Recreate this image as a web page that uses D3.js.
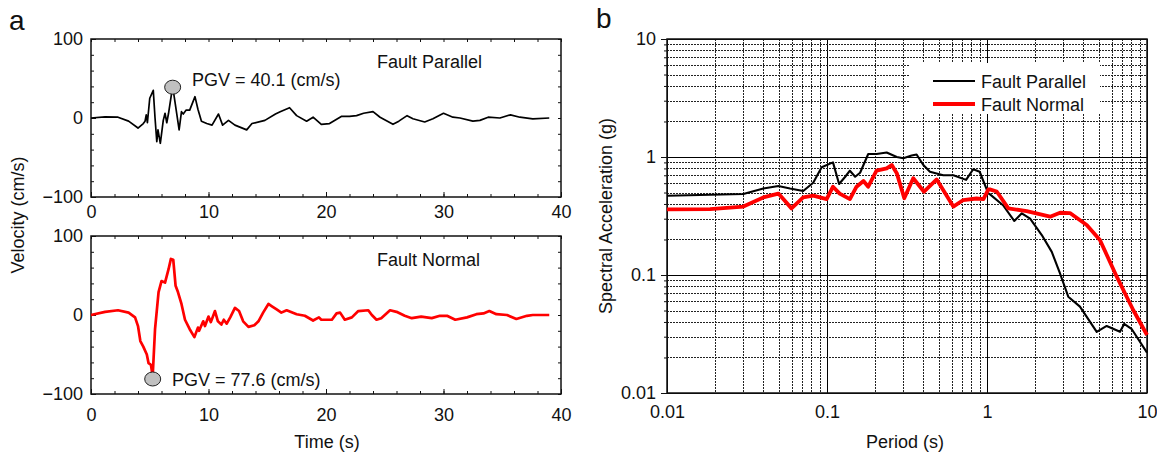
<!DOCTYPE html>
<html>
<head>
<meta charset="utf-8">
<script src="https://cdn.jsdelivr.net/npm/d3@7/dist/d3.min.js"></script>
<style>
  body { margin: 0; background: #fff; }
  svg text { font-family: "Liberation Sans", Arial, sans-serif; fill: #111; }
</style>
</head>
<body>
<svg id="chart" width="1157" height="457"></svg>
<script>
  // velocity time histories (s, cm/s)
  var fpTime = [0, 1.2, 2.3, 3.2, 4.0, 4.45, 4.6, 4.7, 4.8, 5.0, 5.3, 5.45, 5.6, 5.7, 5.9, 6.15, 6.3, 6.45, 6.6, 6.95, 7.15, 7.5, 7.7, 7.85, 8.1, 8.4, 8.85, 9.1, 9.4, 9.85, 10.3, 10.85, 11.2, 11.7, 12.25, 13.25, 13.7, 14.8, 15.7, 16.1, 16.9, 17.5, 18.35, 18.9, 19.6, 20.3, 21.3, 22.0, 22.6, 23.2, 24.0, 24.6, 25.7, 26.2, 26.9, 27.4, 28.4, 29.1, 30.0, 30.8, 31.4, 32.5, 33.1, 33.8, 34.8, 35.7, 36.5, 37.6, 39.0];
  var fpVel  = [0, 1.5, 1, -4, -12.7, -7, -4, 4, -6, 25, 35, 0, -30, -15, -32, -3, 6, -6, 6, 40.1, 20, -15, 8, 5, 10, 10, 27, 11, -4, -7, -9, 5, -9, -3, -9, -15, -7, -3, 5, 8, 13, 3, -4, 1, -8, -7, 2, 2, 3, 6, 8, 1, -8, -4, 3, -1, -5, -1, 6, 1, 0, -4, -3, 1, 0, 4, 1, -1, 0];

  var fnTime = [0, 1.2, 2.3, 3.2, 3.75, 4.0, 4.2, 4.45, 4.75, 4.9, 5.1, 5.25, 5.45, 5.75, 6.0, 6.3, 6.6, 6.8, 7.0, 7.2, 7.4, 7.7, 8.0, 8.4, 8.8, 9.1, 9.2, 9.55, 9.7, 10.0, 10.2, 10.55, 10.8, 11.1, 11.3, 11.55, 11.85, 12.25, 12.6, 12.95, 13.4, 13.9, 14.25, 14.65, 15.1, 15.4, 15.8, 16.2, 16.65, 17.5, 18.2, 18.9, 19.4, 19.6, 20.5, 20.9, 21.2, 21.6, 22.2, 22.75, 23.6, 23.9, 24.3, 24.7, 25.45, 26.0, 26.7, 27.3, 28.1, 29.0, 29.7, 30.3, 31.0, 32.0, 32.8, 33.4, 33.9, 34.5, 35.4, 36.2, 37.1, 37.6, 39.0];
  var fnVel  = [0, 4, 6, 3, -3, -14, -33, -40, -50, -61, -63, -77.6, -18, 29, 43, 41, 58, 71, 70, 37, 29, 14, -6, -18, -28, -16, -20, -8, -14, -2, -9, 5, -8, -12, -6, -11, -3, 9, 5, -8, -15, -13, -8, 3, 14, 11, 7, 3, 6, 1, -1, -7, -3, -6, -6, 2, 3, -6, -3, 5, 6, 0, -6, -4, 6, 4, -1, -4, -2, -4, -1, -1, -6, -3, 1, 2, 5, 1, 0, -5, -1, 0, 0];

  // response spectra (period s, Sa g)
  var fpPeriod = [0.01, 0.03, 0.04, 0.0497, 0.0587, 0.071, 0.082, 0.0926, 0.109, 0.119, 0.13, 0.139, 0.15, 0.161, 0.181, 0.204, 0.236, 0.273, 0.30, 0.338, 0.363, 0.40, 0.44, 0.533, 0.616, 0.74, 0.82, 0.90, 1.02, 1.04, 1.26, 1.48, 1.65, 1.86, 2.2, 2.54, 2.86, 3.22, 3.81, 4.85, 5.6, 6.78, 7.2, 8.0, 10];
  var fpSa     = [0.47, 0.486, 0.54, 0.567, 0.54, 0.515, 0.605, 0.82, 0.90, 0.59, 0.68, 0.765, 0.68, 0.735, 1.06, 1.06, 1.09, 1.0, 0.975, 1.03, 1.05, 0.855, 0.75, 0.70, 0.70, 0.64, 0.787, 0.75, 0.49, 0.485, 0.39, 0.287, 0.333, 0.30, 0.218, 0.157, 0.103, 0.0655, 0.054, 0.033, 0.037, 0.033, 0.0385, 0.035, 0.022];

  var fnPeriod = [0.01, 0.0186, 0.03, 0.04, 0.0497, 0.06, 0.071, 0.082, 0.0995, 0.109, 0.12, 0.139, 0.153, 0.169, 0.181, 0.204, 0.236, 0.254, 0.273, 0.304, 0.346, 0.404, 0.485, 0.616, 0.711, 0.86, 0.95, 1.02, 1.04, 1.15, 1.36, 1.77, 2.48, 2.86, 3.3, 4.2, 5.08, 6.47, 8.2, 10];
  var fnSa     = [0.36, 0.362, 0.38, 0.455, 0.49, 0.367, 0.455, 0.47, 0.44, 0.56, 0.49, 0.44, 0.56, 0.627, 0.56, 0.765, 0.80, 0.855, 0.73, 0.447, 0.66, 0.508, 0.645, 0.38, 0.432, 0.445, 0.44, 0.532, 0.532, 0.51, 0.367, 0.348, 0.312, 0.337, 0.335, 0.265, 0.198, 0.0968, 0.0505, 0.031];

  var velTicks = [-100, 0, 100];
  var timeTicks = [0, 10, 20, 30, 40];
  var saTicks = [0.01, 0.1, 1, 10];
  var periodTicks = [0.01, 0.1, 1, 10];

  var svg = d3.select("#chart");

  // ---------- panel a ----------
  var x = d3.scaleLinear().domain([0, 40]).range([91, 561]);
  var yTop = d3.scaleLinear().domain([-100, 100]).range([197, 39]);
  var yBot = d3.scaleLinear().domain([-100, 100]).range([394, 236]);

  function velPanel ( y, times, vels, color, width, labelDy ) {
    var g = svg.append("g");
    var top = y.range()[1], bottom = y.range()[0];

    // minor ticks inside on all sides
    var minorX = d3.range(0, 41, 2), minorY = d3.range(-100, 101, 20);
    g.append("g").attr("transform", "translate(0," + bottom + ")")
      .call(d3.axisBottom(x).tickValues(minorX).tickSize(-3).tickFormat(""));
    g.append("g").attr("transform", "translate(0," + top + ")")
      .call(d3.axisTop(x).tickValues(minorX).tickSize(-3).tickFormat(""));
    g.append("g").attr("transform", "translate(91,0)")
      .call(d3.axisLeft(y).tickValues(minorY).tickSize(-3).tickFormat(""));
    g.append("g").attr("transform", "translate(561,0)")
      .call(d3.axisRight(y).tickValues(minorY).tickSize(-3).tickFormat(""));

    g.append("g").attr("transform", "translate(0," + bottom + ")")
      .call(d3.axisBottom(x).tickValues(timeTicks).tickSize(-5).tickPadding(labelDy));
    g.append("g").attr("transform", "translate(91,0)")
      .call(d3.axisLeft(y).tickValues(velTicks).tickSize(-5).tickPadding(8));
    g.selectAll(".domain").remove();
    g.selectAll(".tick line").attr("stroke", "#111");
    g.selectAll(".tick text").style("font-size", "18px")
      .style("font-family", "'Liberation Sans', Arial, sans-serif").attr("fill", "#111");

    g.append("rect").attr("x", 91).attr("y", top)
      .attr("width", 470).attr("height", bottom - top)
      .attr("fill", "none").attr("stroke", "#111").attr("stroke-width", 1.5);

    var line = d3.line().x(function (d) { return x(d[0]); }).y(function (d) { return y(d[1]); });
    g.append("path").datum(d3.zip(times, vels)).attr("d", line)
      .attr("fill", "none").attr("stroke", color).attr("stroke-width", width)
      .attr("stroke-linejoin", "round");
    return g;
  }

  velPanel(yTop, fpTime, fpVel, "#000", 1.7, 8);
  velPanel(yBot, fnTime, fnVel, "#ff0000", 2.7, 14);

  // PGV markers
  svg.append("ellipse").attr("cx", x(6.95)).attr("cy", yTop(39)).attr("rx", 8).attr("ry", 7)
    .attr("fill", "#c0c0c0").attr("stroke", "#222").attr("stroke-width", 1);
  svg.append("text").attr("x", 192).attr("y", 86).style("font-size", "18px").text("PGV = 40.1 (cm/s)");
  svg.append("ellipse").attr("cx", x(5.25)).attr("cy", yBot(-81)).attr("rx", 8).attr("ry", 7)
    .attr("fill", "#c0c0c0").attr("stroke", "#222").attr("stroke-width", 1);
  svg.append("text").attr("x", 172).attr("y", 386).style("font-size", "18px").text("PGV = 77.6 (cm/s)");

  svg.append("text").attr("x", 377).attr("y", 68).style("font-size", "18px").text("Fault Parallel");
  svg.append("text").attr("x", 377).attr("y", 266).style("font-size", "18px").text("Fault Normal");

  svg.append("text").attr("x", 327).attr("y", 448).attr("text-anchor", "middle")
    .style("font-size", "18px").text("Time (s)");
  svg.append("text").attr("transform", "translate(24,215) rotate(-90)").attr("text-anchor", "middle")
    .style("font-size", "18px").text("Velocity (cm/s)");
  svg.append("text").attr("x", 9).attr("y", 30).style("font-size", "28px").text("a");

  // ---------- panel b ----------
  var px = d3.scaleLog().domain([0.01, 10]).range([667, 1147]);
  var py = d3.scaleLog().domain([0.01, 10]).range([393, 39]);

  var gb = svg.append("g");
  var xGrid = px.ticks(), yGrid = py.ticks();
  function isMajor ( v ) { return Math.abs(Math.log10(v) - Math.round(Math.log10(v))) < 1e-6; }
  function crisp ( v ) { return Math.round(v) + 0.5; }

  gb.selectAll(".vgrid").data(xGrid).enter().append("line")
    .attr("x1", function (d) { return crisp(px(d)); }).attr("x2", function (d) { return crisp(px(d)); })
    .attr("y1", 39).attr("y2", 393)
    .attr("stroke", function (d) { return isMajor(d) ? "#000" : "#222"; }).attr("stroke-width", 1)
    .attr("stroke-dasharray", function (d) { return isMajor(d) ? null : "2,1"; });
  gb.selectAll(".hgrid").data(yGrid).enter().append("line")
    .attr("y1", function (d) { return crisp(py(d)); }).attr("y2", function (d) { return crisp(py(d)); })
    .attr("x1", 667).attr("x2", 1147)
    .attr("stroke", function (d) { return isMajor(d) ? "#000" : "#222"; }).attr("stroke-width", 1)
    .attr("stroke-dasharray", function (d) { return isMajor(d) ? null : "2,1"; });

  var la = gb.append("g").attr("transform", "translate(667,0)")
    .call(d3.axisLeft(py).tickValues(yGrid).tickSize(4)
      .tickFormat(function (d) { return saTicks.indexOf(d) >= 0 ? d3.format("~g")(d) : ""; }));
  la.selectAll(".tick line").attr("x2", function (d) { return isMajor(d) ? -6 : -3; });
  la.selectAll(".tick text").attr("x", -11);
  gb.append("g").attr("transform", "translate(0,393)")
    .call(d3.axisBottom(px).tickValues(periodTicks).tickSize(0).tickPadding(12)
      .tickFormat(d3.format("~g")));
  gb.selectAll(".domain").remove();
  gb.selectAll(".tick line").attr("stroke", "#111");
  gb.selectAll(".tick text").style("font-size", "18px")
    .style("font-family", "'Liberation Sans', Arial, sans-serif").attr("fill", "#111");

  gb.append("rect").attr("x", 667).attr("y", 39).attr("width", 480).attr("height", 354)
    .attr("fill", "none").attr("stroke", "#111").attr("stroke-width", 1.5);

  // legend box
  gb.append("rect").attr("x", 909).attr("y", 63).attr("width", 191).attr("height", 51).attr("fill", "#fff");

  var sline = d3.line().x(function (d) { return px(d[0]); }).y(function (d) { return py(d[1]); });
  gb.append("path").datum(d3.zip(fpPeriod, fpSa)).attr("d", sline)
    .attr("fill", "none").attr("stroke", "#000").attr("stroke-width", 2.1).attr("stroke-linejoin", "round");
  gb.append("path").datum(d3.zip(fnPeriod, fnSa)).attr("d", sline)
    .attr("fill", "none").attr("stroke", "#ff0000").attr("stroke-width", 3.8).attr("stroke-linejoin", "round");

  gb.append("line").attr("x1", 933).attr("x2", 975).attr("y1", 81).attr("y2", 81)
    .attr("stroke", "#000").attr("stroke-width", 2.1);
  gb.append("line").attr("x1", 933).attr("x2", 975).attr("y1", 104).attr("y2", 104)
    .attr("stroke", "#ff0000").attr("stroke-width", 3.8);
  gb.append("text").attr("x", 981).attr("y", 88).style("font-size", "18px").text("Fault Parallel");
  gb.append("text").attr("x", 981).attr("y", 111).style("font-size", "18px").text("Fault Normal");

  svg.append("text").attr("x", 905).attr("y", 448).attr("text-anchor", "middle")
    .style("font-size", "18px").text("Period (s)");
  svg.append("text").attr("transform", "translate(612,216) rotate(-90)").attr("text-anchor", "middle")
    .style("font-size", "18px").text("Spectral Acceleration (g)");
  svg.append("text").attr("x", 596).attr("y", 28).style("font-size", "28px").text("b");
</script>
</body>
</html>
